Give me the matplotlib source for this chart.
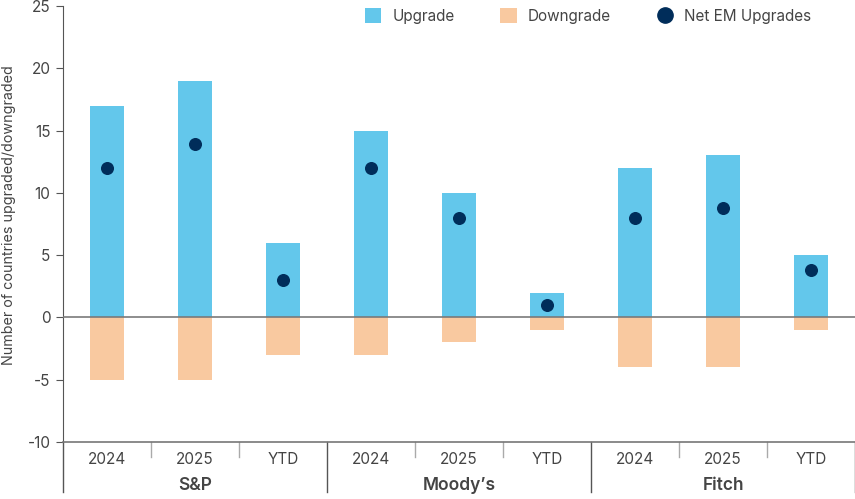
import matplotlib.pyplot as plt
import numpy as np
from matplotlib.patches import Patch
from matplotlib.lines import Line2D

plt.rcParams['font.family'] = ['Inter', 'DejaVu Sans']
plt.rcParams['axes.unicode_minus'] = False

agencies = ["S&P", "Moody\u2019s", "Fitch"]
periods = ["2024", "2025", "YTD"]
upgrades = [17, 19, 6, 15, 10, 2, 12, 13, 5]
downgrades = [-5, -5, -3, -3, -2, -1, -4, -4, -1]
net_upgrades = [12, 13.9, 3, 12, 8, 1, 8, 8.8, 3.8]

up_color = "#63C7EB"
down_color = "#F9C9A0"
dot_color = "#002D5A"
text_color = "#444444"

fig = plt.figure(figsize=(8.55, 4.99), dpi=100)
ax = fig.add_axes([63 / 855, 57 / 499, 792 / 855, 436 / 499])

x = np.arange(len(upgrades))
ax.bar(x, upgrades, width=0.39, color=up_color, zorder=2)
ax.bar(x, downgrades, width=0.39, color=down_color, zorder=2)
ax.axhline(0, color="#7a7a7a", lw=1.2, zorder=3)
ax.scatter(x, net_upgrades, s=70, color=dot_color, zorder=4)

ax.set_xlim(-0.5, len(upgrades) - 0.5)
ax.set_ylim(-10, 25)
ax.set_yticks(np.arange(-10, 26, 5))
ax.tick_params(axis="y", length=5, color="#555555", labelsize=11, labelcolor=text_color, pad=4)
ax.set_xticks([])
ax.set_ylabel("Number of countries upgraded/downgraded", fontsize=10.3, color=text_color)
ax.yaxis.set_label_coords(-0.059, 0.52)
for side in ["top", "right"]:
    ax.spines[side].set_visible(False)
ax.spines["left"].set_color("#555555")
ax.spines["bottom"].set_color("#777777")
ax.spines["bottom"].set_linewidth(1.2)

# category axis drawn below the plot
trans = ax.get_xaxis_transform()
short = -15 / 436
long = -50 / 436
ax.plot([-0.5, -0.5], [0, long], transform=trans, clip_on=False, color="#555555", lw=1)
for i in range(len(upgrades)):
    ax.text(i, -18 / 436, periods[i % 3], transform=trans, ha="center", va="center",
            fontsize=11, color=text_color)
    edge = i + 0.5
    if (i + 1) % 3 == 0:
        ax.plot([edge, edge], [0, long], transform=trans, clip_on=False, color="#555555", lw=1)
    else:
        ax.plot([edge, edge], [0, short], transform=trans, clip_on=False, color="#aaaaaa", lw=1)
for j, name in enumerate(agencies):
    ax.text(3 * j + 1, -43 / 436, name, transform=trans, ha="center", va="center",
            fontsize=12.5, fontweight="semibold", color=text_color)

handles = [
    Patch(facecolor=up_color, edgecolor="none", label="Upgrade"),
    Patch(facecolor=down_color, edgecolor="none", label="Downgrade"),
    Line2D([], [], marker="o", ls="none", markersize=11, color=dot_color, label="Net EM Upgrades"),
]
fig.legend(handles=handles, loc="center", bbox_to_anchor=(588 / 855, 1 - 16 / 499), ncol=3,
           frameon=False, fontsize=11, labelcolor=text_color, handlelength=1.1, handleheight=1.1,
           columnspacing=3.0, handletextpad=0.7)

fig.savefig("out.png", dpi=100)
